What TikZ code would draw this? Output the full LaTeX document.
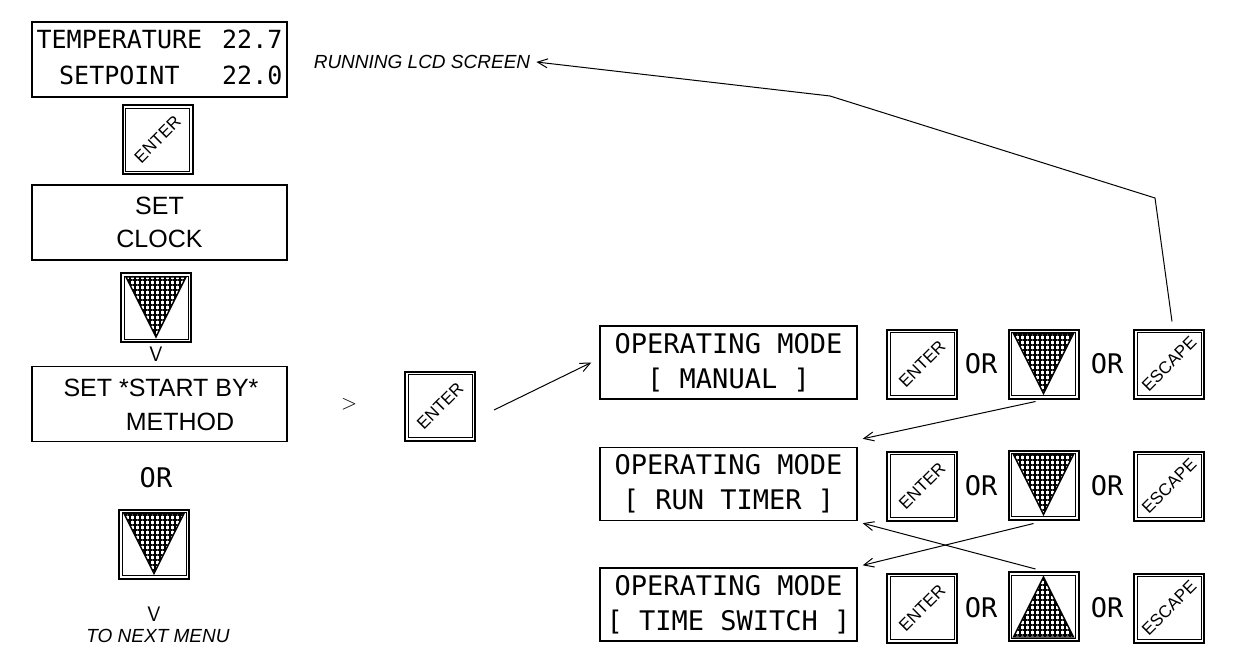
\documentclass[tikz,border=0pt]{standalone}
\usepackage{fontspec}
\setmainfont{Liberation Sans}
\newfontfamily\lcd{DejaVu Sans Mono}
\usetikzlibrary{arrows.meta,patterns.meta}
\newcommand\mkbtn[2]{%
  \node[btnbox] (#1) at (#2) {};
  \draw[line width=0.8pt] ([shift={(4,4)}]#1.north west) rectangle ([shift={(-4,-4)}]#1.south east);}
\newcommand\mkdown[2]{%
  \mkbtn{#1}{#2}
  \draw[hatch] ([shift={(6,5)}]#1.north west) -- ([shift={(-6,5)}]#1.north east) -- ([shift={(0,-6)}]#1.south) -- cycle;}
\newcommand\mkup[2]{%
  \mkbtn{#1}{#2}
  \draw[hatch] ([shift={(6,-5)}]#1.south west) -- ([shift={(-6,-5)}]#1.south east) -- ([shift={(0,6)}]#1.north) -- cycle;}
\begin{document}
\begin{tikzpicture}[x=1pt,y=-1pt,
  sbox/.style={draw, line width=1.4pt, minimum width=255pt, minimum height=75pt, inner sep=0pt},
  lcdbox/.style={draw, line width=1.4pt, minimum width=257pt, minimum height=73pt, inner sep=0pt, align=center, font={\lcd\fontsize{27}{35}\selectfont}},
  btnbox/.style={draw, line width=2pt, minimum width=70pt, minimum height=69pt, inner sep=0pt},
  hatch/.style={draw, line width=1.4pt, pattern={Hatch[distance=5pt,line width=1.4pt]}},
  conn/.style={line width=1pt, -{Straight Barb[length=10pt,width=9pt,line width=1pt]}},
  lcdtxt/.style={font={\lcd\fontsize{27}{33}\selectfont}, inner sep=0pt},
  atxt/.style={font={\fontsize{25}{33}\selectfont}, inner sep=0pt, align=center},
  itxt/.style={font={\itshape\fontsize{19}{22}\selectfont}, inner sep=0pt},
  chev/.style={font={\sffamily\fontsize{21}{21}\selectfont}, inner sep=0pt},
  btxt/.style={rotate=45, font={\fontsize{17}{17}\selectfont}, inner sep=0pt}
]
\useasboundingbox (0,0) rectangle (1234,650);

% left column
\node[sbox, font={\lcd\fontsize{25}{36}\selectfont}] (temp) at (159.5,59.5)
  {\begin{tabular}{@{}c@{\hspace{20pt}}c@{}}TEMPERATURE&22.7\\SETPOINT&22.0\end{tabular}};
\mkbtn{enterA}{157.5,139.5}
\node[btxt] (enterAt) at (enterA) {ENTER};
\node[sbox, atxt] (clock) at (159.5,222.5) {SET\\CLOCK};
\mkdown{downA}{156,307.5}
\node[chev] (vA) at (156,354) {V};
\node[sbox] (method) at (159.5,404) {};
\node[atxt] (methodA) at (161,388) {SET *START BY*};
\node[atxt] (methodB) at (180,422) {METHOD};
\node[lcdtxt] (orA) at (156,478) {OR};
\mkdown{downB}{154,544}
\node[chev] (vB) at (154,614) {V};
\node[itxt] (next) at (158,636) {TO NEXT MENU};

\node[chev] (gt) at (349,404) {>};
\mkbtn{enterB}{440,406}
\node[btxt] (enterBt) at (enterB) {ENTER};

\node[itxt] (lcd) at (422,62) {RUNNING LCD SCREEN};

% right rows
\node[lcdbox] (manual) at (728.5,362.5) {OPERATING MODE\\{[} MANUAL {]}};
\node[lcdbox] (run) at (728.5,484) {OPERATING MODE\\{[} RUN TIMER {]}};
\node[lcdbox] (tsw) at (728.5,604.5) {OPERATING MODE\\{[} TIME SWITCH {]}};

\mkbtn{enR1}{922,364}
\node[btxt] (enR1t) at (enR1) {ENTER};
\node[lcdtxt] (orR1a) at (981,364) {OR};
\mkdown{dnR1}{1043.5,364}
\node[lcdtxt] (orR1b) at (1107,364) {OR};
\mkbtn{esR1}{1169,364}
\node[btxt] (esR1t) at (esR1) {ESCAPE};

\mkbtn{enR2}{922,486}
\node[btxt] (enR2t) at (enR2) {ENTER};
\node[lcdtxt] (orR2a) at (981,486) {OR};
\mkdown{dnR2}{1043.5,485}
\node[lcdtxt] (orR2b) at (1107,486) {OR};
\mkbtn{esR2}{1169,486}
\node[btxt] (esR2t) at (esR2) {ESCAPE};

\mkbtn{enR3}{922,608}
\node[btxt] (enR3t) at (enR3) {ENTER};
\node[lcdtxt] (orR3a) at (981,608) {OR};
\mkup{upR3}{1043.5,606.5}
\node[lcdtxt] (orR3b) at (1107,608) {OR};
\mkbtn{esR3}{1169,608}
\node[btxt] (esR3t) at (esR3) {ESCAPE};

% connectors
\draw[conn] ([shift={(18,4)}]enterB.east) -- ([xshift=-8]manual.west);
\draw[conn] ([shift={(-8,2)}]dnR1.south) -- ([shift={(5,-8)}]run.north east);
\draw[conn] ([shift={(-10,3)}]dnR2.south) -- ([shift={(5,-2)}]tsw.north east);
\draw[conn] ([shift={(-8,-2)}]upR3.north) -- ([shift={(5,2)}]run.south east);
\coordinate (bendA) at (1155,198);
\coordinate (bendB) at (830,96);
\draw[conn] ([shift={(3,-7)}]esR1.north) -- (bendA) -- (bendB) -- ([xshift=6]lcd.east);
\end{tikzpicture}
\end{document}
